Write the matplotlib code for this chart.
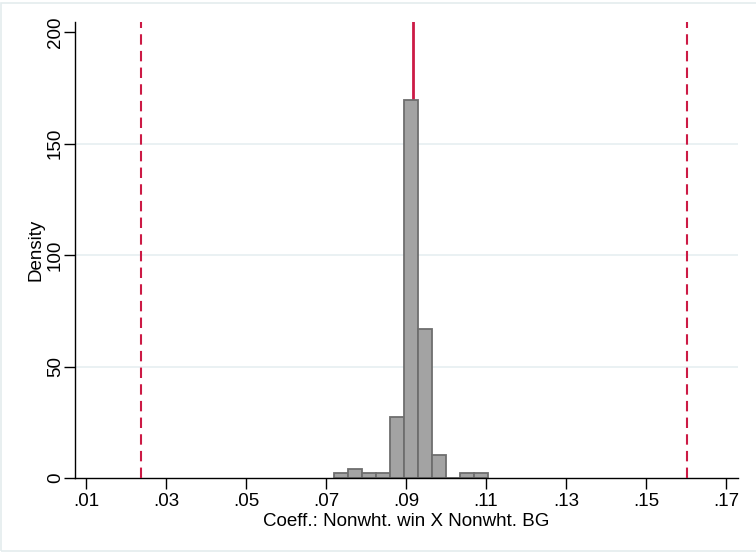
import numpy as np
import matplotlib.pyplot as plt
from matplotlib.patches import Rectangle
from matplotlib.ticker import FuncFormatter

# data
bin_edges = [0.0721, 0.0756, 0.0791, 0.0826, 0.0861, 0.0896,
             0.0931, 0.0966, 0.1001, 0.1036, 0.1071, 0.1106]
density = [2.1, 4.0, 2.1, 2.1, 27.2, 169.5, 66.8, 10.5, 0.0, 2.1, 2.1]

point_est = 0.0918
ci_low = 0.0237
ci_high = 0.1602

x_ticks = [0.01, 0.03, 0.05, 0.07, 0.09, 0.11, 0.13, 0.15, 0.17]
y_ticks = [0, 50, 100, 150, 200]

RED = "#CC1A45"
BAR = "#A3A3A3"
BAR_EDGE = "#6E6E6E"
GRID = "#E6EFF1"

plt.rcParams.update({
    "font.family": ["Liberation Sans", "DejaVu Sans"],
    "font.size": 13,
})

fig = plt.figure(figsize=(7.56, 5.54), dpi=100)
ax = fig.add_axes([75 / 756, 1 - 478 / 554, (738 - 75) / 756, (478 - 22) / 554])

# outer frame of the graph region
fig.patches.append(Rectangle((0.0015, 0.005), 1.2, 0.99, transform=fig.transFigure,
                             fill=False, edgecolor="#E4ECEE", linewidth=1.2))

edges = np.array(bin_edges)
ax.bar(edges[:-1], density, width=np.diff(edges), align="edge",
       color=BAR, edgecolor=BAR_EDGE, linewidth=1.3, zorder=2)

ax.axvline(point_est, color=RED, linewidth=2, zorder=1)
for v in (ci_low, ci_high):
    ax.axvline(v, color=RED, linewidth=1.5, linestyle=(0, (5, 3)), zorder=3)

for yv in [50, 100, 150]:
    ax.axhline(yv, color=GRID, linewidth=1.2, zorder=0)

ax.set_xlim(0.00725, 0.173)
ax.set_ylim(0, 204.5)

ax.set_xticks(x_ticks)
ax.xaxis.set_major_formatter(FuncFormatter(lambda v, p: f"{v:.2f}".lstrip("0")))
ax.set_yticks(y_ticks)
ax.set_yticklabels([str(t) for t in y_ticks], rotation=90, va="center")

ax.tick_params(axis="both", direction="out", length=8, width=1, colors="black",
               labelsize=13.5)
ax.tick_params(axis="x", pad=3)
ax.tick_params(axis="y", pad=0)

for side in ["top", "right"]:
    ax.spines[side].set_visible(False)
for side in ["left", "bottom"]:
    ax.spines[side].set_linewidth(1)

ax.set_xlabel("Coeff.: Nonwht. win X Nonwht. BG", fontsize=13.5, labelpad=2)
ax.set_ylabel("Density", fontsize=13.5, labelpad=2)

fig.savefig("out.png", dpi=100)
